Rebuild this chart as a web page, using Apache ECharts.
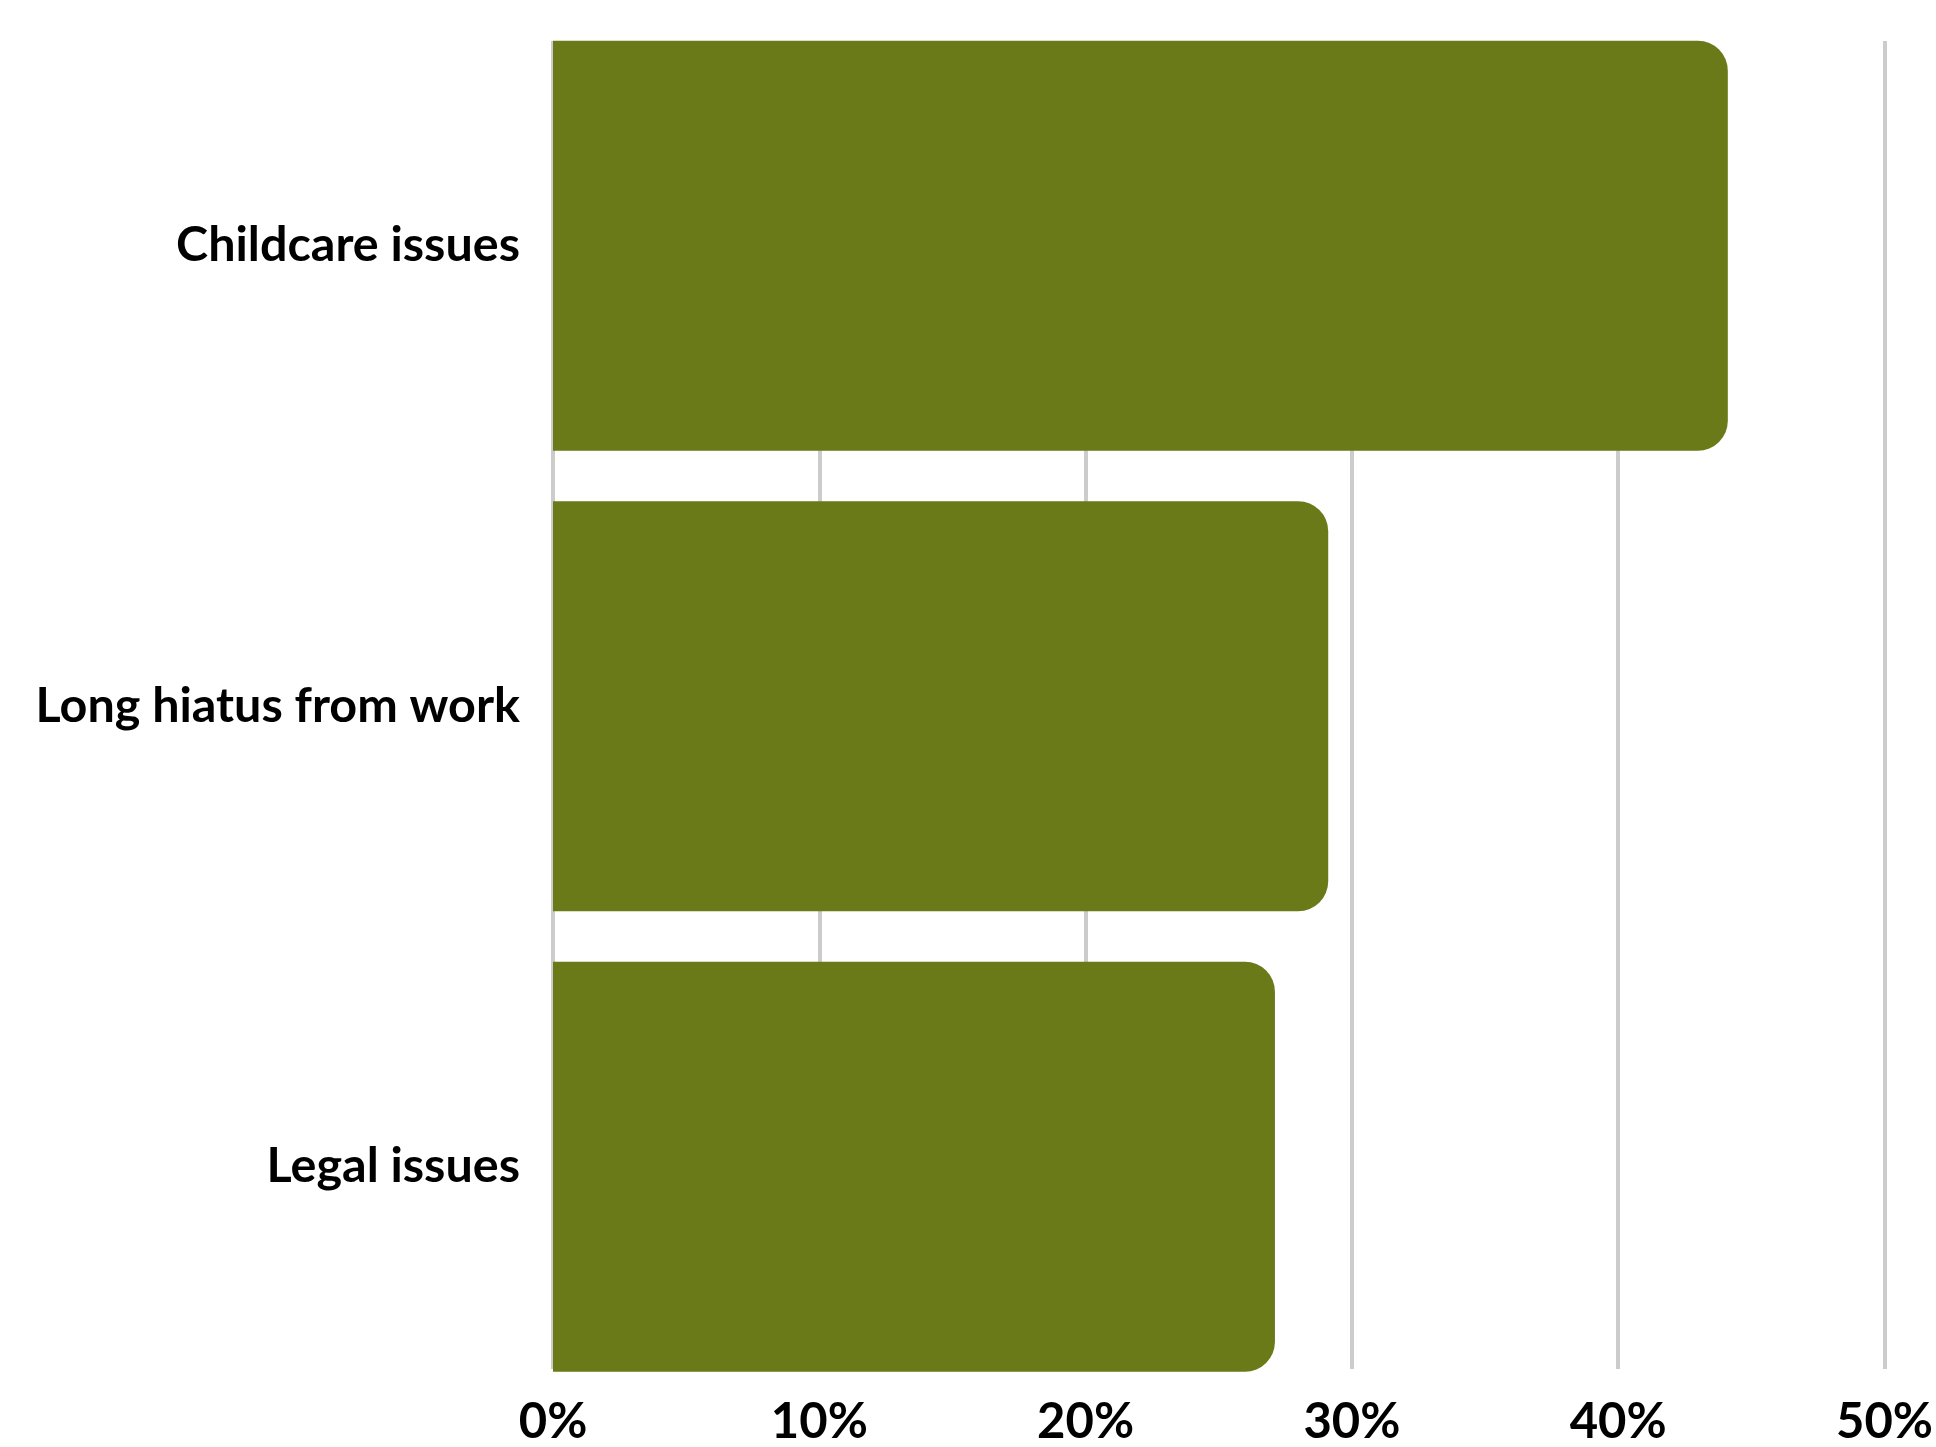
<!DOCTYPE html>
<html>
<head>
<meta charset="utf-8">
<script src="https://cdn.jsdelivr.net/npm/echarts@6/dist/echarts.min.js"></script>
<style>
html,body{margin:0;padding:0;background:#fff;}
#c{width:1936px;height:1447px;}
</style>
</head>
<body>
<div id="c"></div>
<script>
const categories = ["Childcare issues", "Long hiatus from work", "Legal issues"];
const values = [44.1, 29.1, 27.1];
const tickLabels = ["0%", "10%", "20%", "30%", "40%", "50%"];

const FONT = "Lato";
const chart = echarts.init(document.getElementById('c'), null, {renderer: 'canvas'});
chart.setOption({
  backgroundColor: '#ffffff',
  animation: false,
  grid: [
    {left: 553, right: 51, top: 41, bottom: 75},
    {left: 553, right: 51, top: 15.5, bottom: 50}
  ],
  xAxis: [
    {
      gridIndex: 0, type: 'value', min: 0, max: 50, interval: 10,
      axisLine: {show: false}, axisTick: {show: false},
      splitLine: {show: true, lineStyle: {color: '#cccccc', width: 4}},
      axisLabel: {
        margin: 29, color: '#000', fontFamily: FONT, fontWeight: 'bold', fontSize: 49,
        formatter: function (v) { return tickLabels[Math.round(v / 10)]; }
      }
    },
    {
      gridIndex: 1, type: 'value', min: 0, max: 50, show: false
    }
  ],
  yAxis: [
    {gridIndex: 0, type: 'category', data: categories, inverse: true, show: false},
    {
      gridIndex: 1, type: 'category', data: categories, inverse: true,
      axisLine: {show: false}, axisTick: {show: false}, splitLine: {show: false},
      axisLabel: {margin: 33, color: '#000', fontFamily: FONT, fontWeight: 'bold', fontSize: 48.5}
    }
  ],
  series: [{
    type: 'bar', xAxisIndex: 1, yAxisIndex: 1, data: values,
    barWidth: 410,
    itemStyle: {color: '#6b7a19', borderRadius: [0, 30, 30, 0]}
  }]
});
</script>
</body>
</html>
